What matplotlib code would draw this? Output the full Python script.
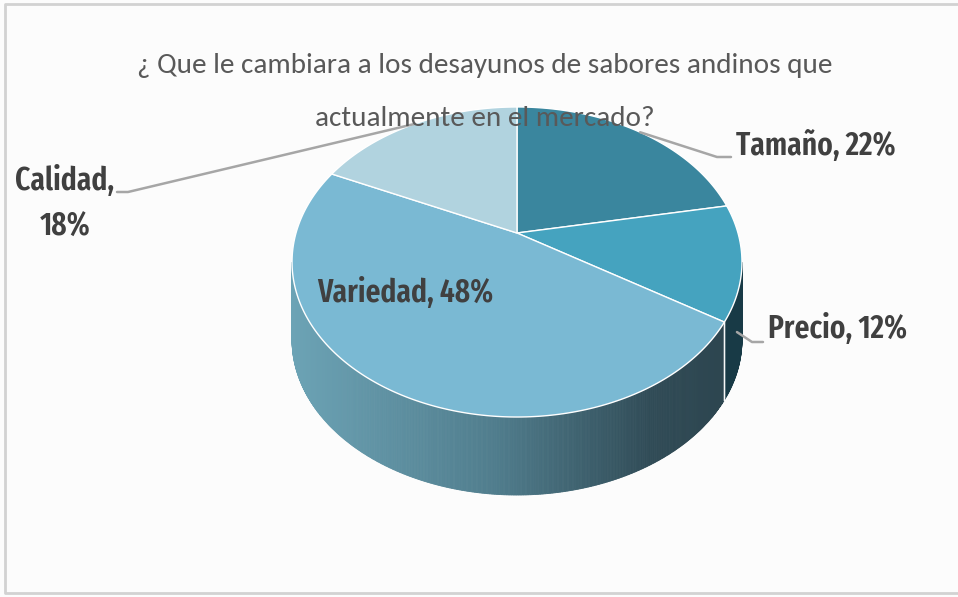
import numpy as np
import matplotlib
matplotlib.use('Agg')
import matplotlib.pyplot as plt
from matplotlib.patches import Polygon
from matplotlib import font_manager as fm

# ---- data ----
categories = ['Tamaño', 'Precio', 'Variedad', 'Calidad']
values = [22, 12, 48, 18]
top_colors = ['#3a869e', '#45a3bf', '#7ab9d3', '#b1d3df']
title_lines = ['¿ Que le cambiara a los desayunos de sabores andinos que',
               'actualmente en el mercado?']

names = {f.name for f in fm.fontManager.ttflist}
title_fam = ['Carlito', 'DejaVu Sans'] if 'Carlito' in names else ['DejaVu Sans']
lab_font = 'Fira Sans Extra Condensed' if 'Fira Sans Extra Condensed' in names else 'Carlito'
label_fam = [lab_font, 'DejaVu Sans']

W, H = 958, 597
fig = plt.figure(figsize=(W / 100, H / 100), dpi=100)
fig.patch.set_facecolor('#fcfcfc')
ax = fig.add_axes([0, 0, 1, 1])
ax.set_xlim(0, W)
ax.set_ylim(H, 0)
ax.axis('off')

# chart frame (top, left, bottom)
ax.plot([W + 2, 5, 5, W + 2], [4, 4, 593, 593], color='#d2d2d2', lw=2, solid_capstyle='butt')

# ---- perspective pie geometry ----
cx, cy = 517, 233
kx, ky, p = 221, 149.6, 0.187
depth = 78


def proj(theta, dz=0.0):
    w = 1 + p * np.cos(theta)
    return cx + kx * np.sin(theta) / w, cy - ky * np.cos(theta) / w + dz


fr = np.array(values, dtype=float) / sum(values)
edges = np.concatenate([[0], np.cumsum(fr)]) * 2 * np.pi

th_r = np.arccos(-p)
th_l = 2 * np.pi - th_r

stops_t = [0.0, 0.45, 0.8, 1.0]
stops_c = np.array([[108, 163, 181], [80, 125, 141], [48, 75, 86], [44, 68, 78]]) / 255.0
prec_c = np.array([[30, 66, 78], [24, 58, 70]]) / 255.0
xl, xr = proj(th_l)[0], proj(th_r)[0]

for i in range(len(values)):
    a0, a1 = max(edges[i], th_r), min(edges[i + 1], th_l)
    if a1 <= a0:
        continue
    n = max(2, int((a1 - a0) * 160))
    ts = np.linspace(a0, a1, n + 1)
    for j in range(n):
        t0, t1 = ts[j], ts[j + 1]
        x0, y0 = proj(t0)
        x1, y1 = proj(t1)
        tt = ((x0 + x1) / 2 - xl) / (xr - xl)
        if categories[i] == 'Precio':
            col = prec_c[0] * (1 - tt) + prec_c[1] * tt
        else:
            col = np.array([np.interp(tt, stops_t, stops_c[:, c]) for c in range(3)])
        poly = [(x0, y0), (x1, y1), (x1, y1 + depth), (x0, y0 + depth)]
        ax.add_patch(Polygon(poly, closed=True, facecolor=col, edgecolor=col, lw=0.6))
    for b in (edges[i], edges[i + 1]):
        if th_r < b < th_l:
            bx, by = proj(b)
            ax.plot([bx, bx], [by, by + depth], color='white', lw=1.0, alpha=0.8)

for i in range(len(values)):
    ts = np.linspace(edges[i], edges[i + 1], 200)
    xs, ys = proj(ts)
    poly = [(cx, cy)] + list(zip(xs, ys))
    ax.add_patch(Polygon(poly, closed=True, facecolor=top_colors[i],
                         edgecolor='white', lw=1.0, joinstyle='round'))

# ---- title (two lines, drawn above the pie) ----
for yy, line in zip([66, 119], title_lines):
    ax.text(485, yy, line, ha='center', va='center', fontsize=21,
            color='#595959', family=title_fam, zorder=5)

# ---- labels & leader lines ----
lab_color = '#404040'
lead = dict(color='#a6a6a6', lw=1.8, solid_capstyle='round')
mid = (edges[:-1] + edges[1:]) / 2
lab_kw = dict(fontsize=23, fontweight='semibold', color=lab_color, family=label_fam)

mx, my = proj(mid[0])
ax.plot([mx, 717, 731], [my, 157, 157], **lead)
ax.text(736, 146, f'{categories[0]}, {values[0]}%', ha='left', va='center', **lab_kw)

bx, by = proj(mid[1])
ax.plot([bx - 5, 752, 763], [by + 70, 342, 342], **lead)
ax.text(768, 329, f'{categories[1]}, {values[1]}%', ha='left', va='center', **lab_kw)

ax.text(405, 293, f'{categories[2]}, {values[2]}%', ha='center', va='center', **lab_kw)

mx, my = proj(mid[3])
ax.plot([mx, 128, 117], [my, 192, 192], **lead)
ax.text(65, 204, f'{categories[3]},\n{values[3]}%', ha='center', va='center',
        linespacing=1.55, **lab_kw)

fig.savefig('out.png', dpi=100, facecolor=fig.get_facecolor())
